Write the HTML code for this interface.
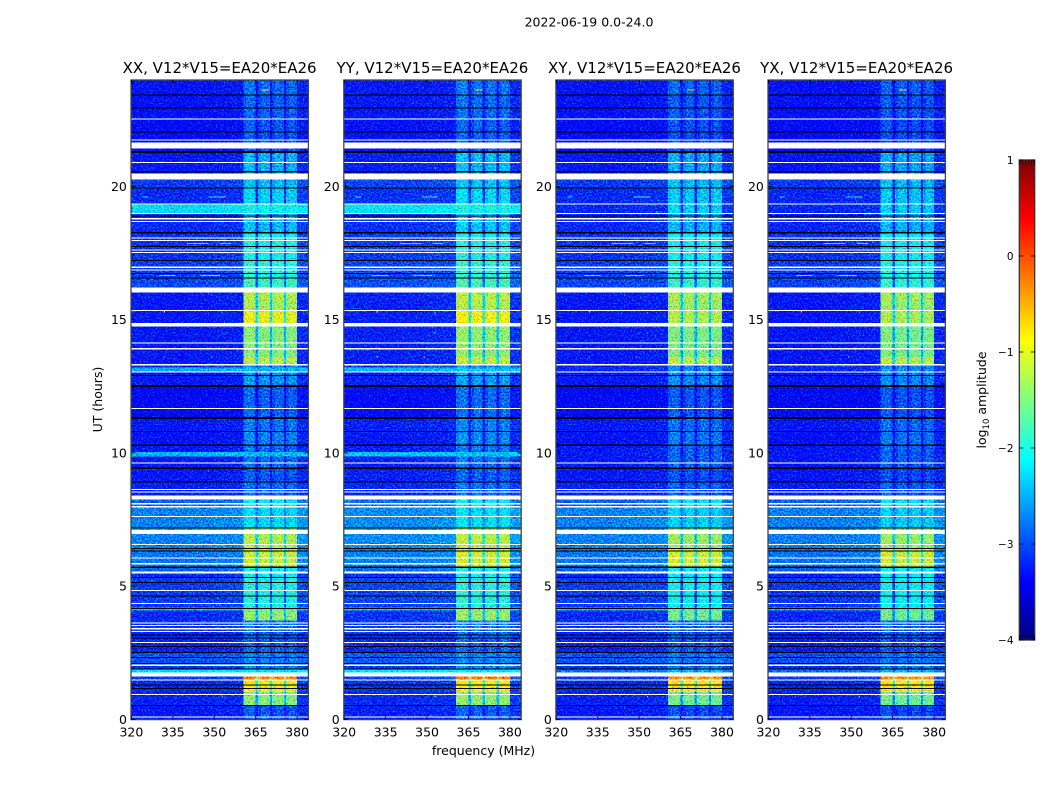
<!DOCTYPE html>
<html>
<head>
<meta charset="utf-8">
<title>Dynamic spectra 2022-06-19</title>
<style>
html,body{margin:0;padding:0;background:#fff;}
svg{display:block;}
text{font-family:"DejaVu Sans","Liberation Sans",sans-serif;fill:#000;}
</style>
</head>
<body>
<svg id="figure" xmlns="http://www.w3.org/2000/svg" width="1050" height="800" viewBox="0 0 1050 800">
  <defs>
    <filter id="speckle" filterUnits="userSpaceOnUse" x="0" y="0" width="1050" height="800" color-interpolation-filters="sRGB">
      <feTurbulence type="fractalNoise" baseFrequency="0.62" numOctaves="1" seed="7" result="n"/>
      <feColorMatrix in="n" type="matrix" values="0 0 0 0 .45  1.6 0 0 0 -.38  0 .9 0 0 0  0 0 0 0 1" result="m"/>
      <feComposite in="SourceGraphic" in2="m" operator="arithmetic" k1="0" k2="1" k3="1" k4="-.45" result="sum"/>
      <feComposite in="sum" in2="SourceAlpha" operator="in"/>
    </filter>
  </defs>
  <rect width="1050" height="800" fill="#fff"/>
  <text x="589" y="26.5" font-size="12.5" text-anchor="middle">2022-06-19 0.0-24.0</text>
  <text transform="translate(102,399.5) rotate(-90)" font-size="12.5" text-anchor="middle">UT (hours)</text>
  <text x="483.5" y="755" font-size="12.5" text-anchor="middle">frequency (MHz)</text>
  <text transform="translate(986,400) rotate(-90)" font-size="12.5" text-anchor="middle">log<tspan font-size="8.5" dy="3">10</tspan><tspan dy="-3"> amplitude</tspan></text>
  <g id="panels"></g>
  <g id="colorbar"></g>
</svg>
<script>
// ---- Chart data (log10 amplitude, UT hours, MHz) ----
const panelTitles = ["XX, V12*V15=EA20*EA26","YY, V12*V15=EA20*EA26","XY, V12*V15=EA20*EA26","YX, V12*V15=EA20*EA26"];
const panelIsCoPol = [1,1,0,0];
const panelGain = [0,0.05,0,-0.02];
const freqTicks = [320,335,350,365,380];
const hourTicks = [0,5,10,15,20];
const colorTicks = [-4,-3,-2,-1,0,1];

const bandStartHours =  [0,    0.52, 1.02, 1.47, 1.61, 1.76, 1.90, 2.05, 2.50, 3.05, 3.30, 3.70, 4.08, 4.20, 5.30, 5.47, 5.71, 6.41, 6.96, 7.18, 7.98, 8.26, 8.90, 9.42, 9.87, 10.03,10.28,10.80,11.31,12.51,13.04,13.20,13.31,13.60,14.13,14.87,15.34,15.70,16.02,16.21,16.60,17.20,18.26,18.97,19.35,19.95,20.49,21.27,22.53,23.44,24];
const offLevelCo =      [-3.25,-3.20,-3.15,-3.05,-3.00,-2.25,-3.10,-2.95,-3.20,-3.15,-3.10,-3.15,-2.40,-3.05,-3.15,-2.85,-2.75,-2.70,-2.50,-2.70,-2.85,-3.20,-3.25,-3.25,-2.45,-3.25,-3.30,-3.25,-3.40,-3.25,-2.50,-3.10,-3.25,-3.25,-3.25,-3.25,-3.25,-3.25,-3.10,-3.00,-3.05,-3.10,-3.15,-2.25,-3.15,-3.05,-3.25,-3.35,-3.30,-3.30];
const offLevelCross =   [-3.25,-3.20,-3.15,-3.05,-3.00,-2.80,-3.10,-2.95,-3.20,-3.15,-3.10,-3.15,-2.40,-3.05,-3.15,-2.85,-2.75,-2.70,-2.50,-2.70,-2.85,-3.20,-3.25,-3.25,-3.25,-3.25,-3.30,-3.25,-3.40,-3.25,-3.15,-3.15,-3.25,-3.25,-3.25,-3.25,-3.25,-3.25,-3.10,-3.00,-3.05,-3.10,-3.15,-3.15,-3.15,-3.05,-3.25,-3.35,-3.30,-3.30];
const onLevelCo =       [-2.95,-1.50,-1.00,-0.35,-2.50,-2.25,-2.70,-2.75,-2.90,-2.85,-2.80,-1.45,-1.70,-2.00,-2.10,-2.10,-1.20,-1.30,-1.30,-2.30,-2.15,-2.85,-2.95,-2.85,-2.65,-2.85,-2.75,-2.80,-2.90,-2.65,-2.45,-2.65,-1.25,-1.50,-1.50,-1.05,-1.35,-1.30,-2.05,-1.85,-1.95,-2.05,-2.45,-2.05,-2.35,-2.45,-2.50,-2.95,-2.90,-2.85];
const onLevelCross =    [-3.00,-1.60,-0.85,-0.40,-2.55,-2.45,-2.75,-2.80,-2.95,-2.90,-2.85,-1.60,-1.80,-2.10,-2.15,-2.15,-1.15,-1.40,-1.40,-2.35,-2.20,-2.90,-3.00,-2.90,-2.90,-2.90,-2.80,-2.85,-2.95,-2.70,-2.65,-2.70,-1.25,-1.55,-1.55,-1.30,-1.40,-1.35,-2.10,-1.90,-2.00,-2.10,-2.50,-2.35,-2.40,-2.45,-2.55,-3.00,-2.95,-2.90];

const channelEdges =  [320,330,340,350,356,360.5,361.5,363,364.2,365,365.9,367,368.5,370.1,370.9,372,373.5,375.2,376,377,378.5,380,384];
const channelOnBand = [0,  0,  0,  0,  0,  1,    1,    1,  1,    1,  1,    1,  1,    1,    1,    1,  1,    1,    1,  1,  1,    0];
const channelGain =   [0,-0.02,0, 0.03,0.05,0.02,0.08, 0.10,0.0,-1.00,-0.12,0.05,0.03,-0.95,-0.10,0.05,0.02,-0.95,-0.10,0.06,0.0,0.10];

const blankThinHours = [22.53,21.74,20.90,18.98,18.79,18.68,18.07,17.97,17.62,17.52,16.97,16.87,15.34,14.13,13.91,13.31,13.04,11.66,9.62,8.62,8.53,8.09,7.98,7.61,6.56,6.06,5.84,4.84,4.35,3.62,3.52,3.40,3.30,2.88,2.03,1.47,0.93,0.09];
const blankSpanStart = [21.43,20.27,19.33,16.02,14.74,8.26,6.96,5.47,1.61];
const blankSpanEnd =   [21.65,20.49,19.37,16.21,14.87,8.41,7.10,5.55,1.76];
const deadThinHours = [23.44,22.95,22.05,19.95,18.89,17.75,17.22,16.74,16.57,12.90,11.33,11.29,10.80,8.90,7.18,6.41,6.32,5.33,5.13,4.62,4.16,3.17,3.05,2.74,2.51,2.32,2.09,1.88,1.29,1.16,0.52];
const deadSpanStart = [21.26,20.53,18.23,12.47,10.25,9.39,5.68];
const deadSpanEnd =   [21.33,20.59,18.29,12.55,10.31,9.45,5.74];

const rfiFreqStart = [348,352,324,330,345,340,352,367.5,356];
const rfiFreqEnd =   [353,354,326,336,352,348,356,370,357];
const rfiHours =     [19.60,19.60,19.60,16.65,16.65,17.86,17.86,23.62,19.0];
const rfiLevels =    [-1.9,-1.6,-2.0,-1.9,-1.8,-2.0,-1.9,-0.9,-2.0];
const spotFreq =  [332,353,353,332,349,353,353];
const spotHours = [15.3,14.5,15.25,13.6,13.6,20.7,0.85];
const spotLevels =[-1.0,-1.6,-1.5,-1.0,-1.0,-1.2,-1.7];

// ---- Layout and scales ----
const NS = "http://www.w3.org/2000/svg";
const panelX = [131.4,344.2,556.3,768.4];
const panelW = 177;
const topY = 80, botY = 719.6;
const xMin = 320, xMax = 384;
const hourY = h => 719.3 - 26.64 * h;
const freqX = (p, f) => panelX[p] + (f - xMin) * 2.762;

function jet(v){
  const t = Math.max(0, Math.min(1, (v + 4) / 5));
  const c = x => Math.round(255 * Math.max(0, Math.min(1, x)));
  return "rgb(" + c(Math.min(4*t-1.5, -4*t+4.5)) + "," + c(Math.min(4*t-0.5, -4*t+3.5)) + "," + c(Math.min(4*t+0.5, -4*t+2.5)) + ")";
}
function mk(tag, parent, attrs){
  const el = document.createElementNS(NS, tag);
  for (const k in attrs) el.setAttribute(k, attrs[k]);
  parent.appendChild(el);
  return el;
}

const panelsRoot = document.getElementById("panels");
panelTitles.forEach((title, p) => {
  const g = mk("g", panelsRoot, {});
  
  

  const heat = mk("g", g, {filter:"url(#speckle)", "shape-rendering":"crispEdges"});
  
  

  for (let b = 0; b < bandStartHours.length - 1; b++) {
    const yTop = hourY(bandStartHours[b+1]);
    const yBot = b === 0 ? botY : hourY(bandStartHours[b]);
    const off = panelIsCoPol[p] ? offLevelCo[b] : offLevelCross[b];
    const on = panelIsCoPol[p] ? onLevelCo[b] : onLevelCross[b];
    for (let c = 0; c < channelEdges.length - 1; c++) {
      const base = off + channelGain[c];
      const lvl = channelOnBand[c] ? Math.max(off, on + channelGain[c]) : base;
      const x1 = freqX(p, channelEdges[c]);
      const x2 = freqX(p, channelEdges[c+1]);
      const cell = mk("rect", heat, {x:x1, y:yTop, width:x2-x1, height:yBot-yTop, fill:jet(lvl + panelGain[p])});
      
      
    }
  }

  rfiHours.forEach((h, i) => {
    const x1 = freqX(p, rfiFreqStart[i]);
    const x2 = freqX(p, rfiFreqEnd[i]);
    const seg = mk("rect", heat, {x:x1, y:hourY(h)-0.5, width:x2-x1, height:1, fill:jet(rfiLevels[i])});
    
    
  });
  spotHours.forEach((h, i) => {
    const spot = mk("rect", heat, {x:freqX(p, spotFreq[i])-0.6, y:hourY(h)-0.6, width:1.2, height:1.2, fill:jet(spotLevels[i])});
    
    
  });

  const flags = mk("g", g, {"shape-rendering":"crispEdges"});
  
  
  const L = freqX(p, xMin), W = freqX(p, xMax) - L;

  blankThinHours.forEach(h => {
    const r = mk("rect", flags, {x:L, y:hourY(h)-0.55, width:W, height:1.1, fill:"#fff"});
    
    
  });
  blankSpanStart.forEach((s, i) => {
    const r = mk("rect", flags, {x:L, y:hourY(blankSpanEnd[i]), width:W, height:hourY(s)-hourY(blankSpanEnd[i]), fill:"#fff"});
    
    
  });
  deadThinHours.forEach(h => {
    const r = mk("rect", flags, {x:L, y:hourY(h)-0.5, width:W, height:1, fill:"#000"});
    
    
  });
  deadSpanStart.forEach((s, i) => {
    const r = mk("rect", flags, {x:L, y:hourY(deadSpanEnd[i]), width:W, height:hourY(s)-hourY(deadSpanEnd[i]), fill:"#000"});
    
    
  });

  const frame = mk("rect", g, {x:panelX[p]-0.4, y:topY, width:panelW+0.4, height:botY-topY, fill:"none", stroke:"#444", "stroke-width":1.3});
  
  

  const ttl = mk("text", g, {x:panelX[p]+panelW/2-0.3, y:73, "font-size":15, "text-anchor":"middle"});
  ttl.textContent = title;
  
  

  freqTicks.forEach(f => {
    const x = freqX(p, f);
    const t1 = mk("line", g, {x1:x, x2:x, y1:botY, y2:botY-4, stroke:"#000", "stroke-width":0.8});
    
    
    const t2 = mk("line", g, {x1:x, x2:x, y1:topY, y2:topY+4, stroke:"#000", "stroke-width":0.8});
    
    
    const lab = mk("text", g, {x:x, y:736.5, "font-size":12.5, "text-anchor":"middle"});
    lab.textContent = String(f);
    
    
  });
  hourTicks.forEach(h => {
    const y = hourY(h);
    const t1 = mk("line", g, {x1:panelX[p], x2:panelX[p]+4, y1:y, y2:y, stroke:"#000", "stroke-width":0.8});
    
    
    const t2 = mk("line", g, {x1:panelX[p]+panelW, x2:panelX[p]+panelW-4, y1:y, y2:y, stroke:"#000", "stroke-width":0.8});
    
    
    const lab = mk("text", g, {x:panelX[p]-4.5, y:y+4.5, "font-size":12.5, "text-anchor":"end"});
    lab.textContent = String(h);
    
    
  });
});

// ---- Colorbar ----
const cb = document.getElementById("colorbar");
const cbX = 1019.3, cbW = 15.4, cbTop = 160, cbBot = 640;
const cbY = v => cbBot - (v + 4) * (cbBot - cbTop) / 5;
const cbGrad = mk("g", cb, {"shape-rendering":"crispEdges"});


for (let px = 0; px < 240; px++) {
  const v = -4 + 5 * (px + 0.5) / 240;
  const s = mk("rect", cbGrad, {x:cbX, y:cbBot-(px+1)*2, width:cbW, height:2.2, fill:jet(v)});
  
  
}
const cbFrame = mk("rect", cb, {x:cbX, y:cbTop, width:cbW, height:cbBot-cbTop, fill:"none", stroke:"#333", "stroke-width":1.3});


colorTicks.forEach(v => {
  const y = cbY(v);
  const a = mk("line", cb, {x1:cbX, x2:cbX+4, y1:y, y2:y, stroke:"#000", "stroke-width":0.8});
  
  
  const b = mk("line", cb, {x1:cbX+cbW, x2:cbX+cbW-4, y1:y, y2:y, stroke:"#000", "stroke-width":0.8});
  
  
  const lab = mk("text", cb, {x:1013.5, y:y+3.8, "font-size":10.5, "text-anchor":"end"});
  lab.textContent = v < 0 ? "\u2212" + Math.abs(v) : String(v);
  
  
});
[0,1,2,3,4,5].forEach(i => {
  const x = cbX + i * cbW / 5;
  const a = mk("line", cb, {x1:x, x2:x, y1:cbBot, y2:cbBot-5, stroke:"#000", "stroke-width":0.7});
  
  
  const b = mk("line", cb, {x1:x, x2:x, y1:cbTop, y2:cbTop+5, stroke:"#000", "stroke-width":0.7});
  
  
  const d = mk("text", cb, {x:x-0.5, y:647, "font-size":4, "text-anchor":"middle", style:"fill:#777"});
  d.textContent = ".";
  
  
});
</script>
</body>
</html>
